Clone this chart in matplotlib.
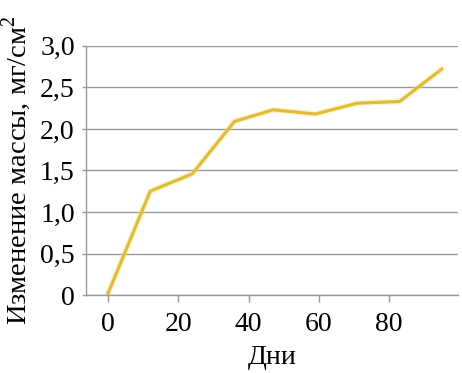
import matplotlib
matplotlib.use("Agg")
import matplotlib.pyplot as plt
from matplotlib.ticker import FuncFormatter

# Mass change over time
days = [0, 12, 24, 36, 47, 59, 71, 83, 95]
mass_change = [0.02, 1.25, 1.46, 2.09, 2.23, 2.18, 2.31, 2.33, 2.72]

x_ticks = [0, 20, 40, 60, 80]
y_ticks = [0, 0.5, 1.0, 1.5, 2.0, 2.5, 3.0]

plt.rcParams['font.family'] = ['Liberation Serif', 'DejaVu Serif']
plt.rcParams['mathtext.fontset'] = 'custom'
plt.rcParams['mathtext.rm'] = 'Liberation Serif'

fig = plt.figure(figsize=(4.62, 3.73), dpi=100)
ax = fig.add_axes([0.186, 0.209, 0.805, 0.668])

grid_color = '#9a9a9a'
line_color = '#dfbb38'

# soft halo under the main line
ax.plot(days, mass_change, color='#f5e27a', lw=4.2, alpha=0.4,
        solid_joinstyle='miter', zorder=3)
ax.plot(days, mass_change, color=line_color, lw=2.2,
        solid_joinstyle='miter', zorder=4)

ax.set_xlim(-6.3, 99.6)
ax.set_ylim(0, 3.0)
ax.set_xticks(x_ticks)
ax.set_yticks(y_ticks)

def comma_fmt(v, pos):
    if v == 0:
        return '0'
    return f'{v:.1f}'.replace('.', ',')

ax.yaxis.set_major_formatter(FuncFormatter(comma_fmt))

ax.grid(axis='y', color=grid_color, lw=1.0)
ax.set_axisbelow(True)
for side in ['top', 'right']:
    ax.spines[side].set_visible(False)
ax.spines['left'].set_color(grid_color)
ax.spines['bottom'].set_color(grid_color)
ax.spines['left'].set_linewidth(1.0)
ax.spines['bottom'].set_linewidth(1.0)

ax.tick_params(axis='x', direction='out', length=5, width=1.0,
               color=grid_color, labelsize=20, pad=7)
ax.tick_params(axis='y', direction='out', length=3, width=1.0,
               color=grid_color, labelsize=20, pad=5)

ax.set_xlabel('Дни', fontsize=20, labelpad=6)
ax.set_ylabel('Изменение массы, мг/см$^{2}$', fontsize=20.5, labelpad=5)

fig.savefig('out.png', dpi=100)
